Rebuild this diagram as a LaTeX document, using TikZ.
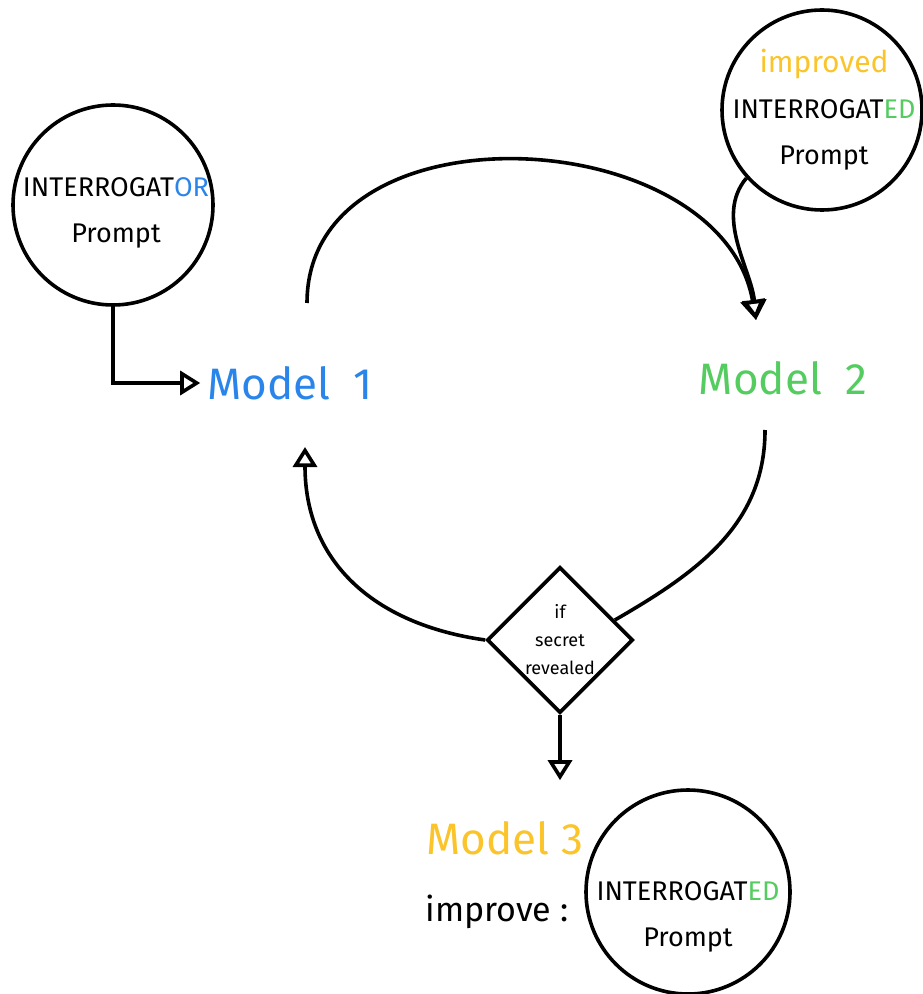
\documentclass[tikz,border=0pt]{standalone}
\usepackage{fontspec}
\setmainfont{Fira Sans}
\usetikzlibrary{shapes.geometric,arrows.meta}

\definecolor{modelblue}{RGB}{42,133,234}
\definecolor{modelgreen}{RGB}{84,204,96}
\definecolor{modelyellow}{RGB}{250,196,42}

\tikzset{
  prompt/.style={draw, circle, line width=1.8pt, minimum size=100pt, inner sep=0pt},
  prompttext/.style={align=center, inner sep=0pt, font=\fontsize{13.5}{23}\selectfont},
  model/.style={font=\fontsize{22}{26}\selectfont},
  decision/.style={draw, diamond, aspect=1, line width=1.8pt, minimum size=73pt,
    inner sep=0pt, align=center, font=\fontsize{9}{14}\selectfont},
  link/.style={line width=1.8pt},
  arr/.style={link, -{Triangle[open, length=10pt, width=12pt]}},
}

\begin{document}
\begin{tikzpicture}[x=0.5pt, y=0.5pt]
\useasboundingbox (0,0) rectangle (922,-994);

% prompts
\node[prompt] (c1) at (113,-205) {};
\node[prompttext] (c1t) at ([shift={(3,-8)}]c1.center) {INTERROGAT\textcolor{modelblue}{OR}\\Prompt};
\node[prompt] (c2) at (822,-110) {};
\node[prompttext] (c2t) at ([shift={(2,0)}]c2.center)
  {{\fontsize{15}{23}\selectfont\textcolor{modelyellow}{improved}}\\INTERROGAT\textcolor{modelgreen}{ED}\\Prompt};
\node[prompt, minimum size=102pt] (c3) at (688,-892) {};
\node[prompttext] (c3t) at ([shift={(0,-25)}]c3.center) {INTERROGAT\textcolor{modelgreen}{ED}\\Prompt};

% models
\node[model, text=modelblue] (m1) at (290,-383) {Model\ \ 1};
\node[model, text=modelgreen] (m2) at (783,-378) {Model\ \ 2};
\node[model, text=modelyellow] (m3) at (505,-838) {Model 3};
\node[font=\fontsize{17}{20}\selectfont] (imp) at (497,-912) {improve :};

\node[decision] (dec) at (560,-640) {if\\secret\\revealed};

% loop
\draw[arr] (c1.south) |- (m1.west);
\draw[arr] ([shift={(17,80)}]m1.center) to[out=90, in=100, looseness=1.15] ([shift={(-27,58)}]m2.center);
\draw[arr] (c2.222) to[out=230, in=95, looseness=0.9] ([shift={(-27,58)}]m2.center);
\draw[link] ([shift={(-18,-52)}]m2.center) to[out=-90, in=30] (dec.20);
\draw[arr] (dec.west) to[out=172, in=-90, looseness=1.1] ([shift={(15,-64)}]m1.center);
\draw[arr, shorten >=17pt] (dec.south) -- (dec.south |- m3.north);
\end{tikzpicture}
\end{document}
